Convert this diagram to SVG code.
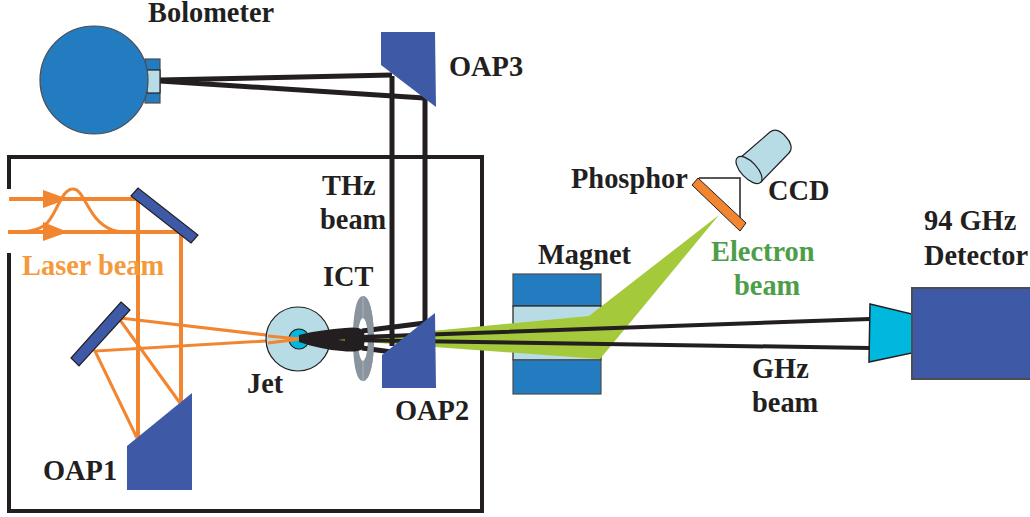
<svg xmlns="http://www.w3.org/2000/svg" width="1030" height="517" viewBox="0 0 1030 517">
<style>
text{font-family:"Liberation Serif","Times New Roman",serif;font-weight:bold;font-size:28.4px;fill:#231f20}
.o{stroke:#f28530;fill:none}
.k{stroke:#231f20;fill:none}
.dark{fill:#3e5aa6}
.mir{fill:#3e5aa6;stroke:#231f20;stroke-width:1.2}
.blue{fill:#237bc0;stroke:#4d4d4f;stroke-width:1.2}
.pale{fill:#b8dce6;stroke:#231f20;stroke-width:1.2}
.ring{fill:#8a949e}
</style>
<rect width="1030" height="517" fill="#fff"/>
<g id="enclosure"><path class="k" stroke-width="4" d="M9 189V157H482V511H9V253"/></g>
<g id="connectors">
<path class="o" stroke-width="4" d="M9 199H138V437M8 232H181V402"/>
<path class="o" stroke-width="3" d="M8 232C26 233 40 231 48 222C58 210 62 189 73 189C85 189 87 220 112 230C120 233 128 233 136 232"/>
<path fill="#f28530" d="M43 190L68 199L43 208ZM43 222L68 232L43 241Z"/>
<path class="o" stroke-width="3" d="M120 318L300 339L95 351L137 438M120 320L180 403"/>
</g>
<g id="magnet">
<rect class="blue" x="513" y="274" width="88" height="32"/>
<rect class="pale" x="513" y="306" width="88" height="54"/>
<rect class="blue" x="513" y="360" width="88" height="34"/>
</g>
<g id="jet">
<circle class="pale" cx="298" cy="339" r="32"/>
<circle cx="299" cy="339" r="10" fill="#00b8de" stroke="#231f20" stroke-width="1.2"/>
<path class="o" stroke-width="3" d="M268 336L300 339L268 343"/>
</g>
<g id="ict-back">
<path class="ring" fill-rule="evenodd" d="M363 296C370 296 374 316 374 339C374 362 370 381 363 381C356 381 353 362 353 339C353 316 356 296 363 296ZM363 318C360 318 358 328 358 339C358 350 360 361 363 361C366 361 368 350 368 339C368 328 366 318 363 318Z"/>
</g>
<g id="thz-beam">
<path fill="#231f20" d="M299 335C315 331 330 329 345 328C352 327 359 327 363 330C365 332 365 346 363 349C358 352 350 352 342 351C328 350 314 347 299 342Z"/>
<path class="k" stroke-width="5" d="M362 331L425 323M362 348L392 352"/>
</g>
<g id="electron-beam"><path fill="#a4c93b" d="M338 340L589 316L719 215L600 359Z"/></g>
<g id="ict-front">
<path class="ring" d="M363 296C370 296 374 316 374 339C374 362 370 381 363 381V361C366 361 368 350 368 339C368 328 366 318 363 318Z"/>
<path stroke="#aab2ba" stroke-width="1" fill="none" d="M363 296V318M363 361V381"/>
</g>
<g id="thz-ghz-beams">
<path class="k" stroke-width="4" d="M345 337.500L870 319M345 340L870 348"/>
<path class="k" stroke-width="5" d="M392 76V346M425 98V325"/>
<path class="k" stroke-width="5" d="M160 80L392 75M160 81L424 98"/>
</g>
<g id="bolometer">
<rect class="blue" x="145" y="59" width="15" height="44"/>
<rect class="pale" x="147" y="70" width="13" height="23"/>
<circle class="blue" cx="94" cy="80" r="54"/>
<text x="148" y="22">Bolometer</text>
</g>
<g id="oap3"><path class="dark" d="M381 32H435L436 107L381 65Z"/><text x="449" y="76">OAP3</text></g>
<g id="oap2"><path class="dark" d="M382 355L435 313L436 388H382Z"/><text x="395" y="420">OAP2</text></g>
<g id="oap1"><path class="dark" d="M127 446L192 393V490H127Z"/><text x="43" y="480">OAP1</text></g>
<g id="mirror-1"><path class="mir" d="M131 196L138 188L198 235L191 243Z"/></g>
<g id="mirror-2"><path class="mir" d="M121 302L130 310L79 366L71 358Z"/></g>
<g id="phosphor">
<path fill="none" stroke="#231f20" stroke-width="1.5" d="M699 178H740V220"/>
<path fill="#f28530" stroke="#231f20" stroke-width="1" d="M698 178L692 185L740 231L746 223Z"/>
<text x="571" y="188">Phosphor</text>
</g>
<g id="ccd">
<path class="pale" stroke-width="1.5" d="M740 158L770 132C775 128 781 131 786 137C791 142 793 149 789 153L761 182Z"/>
<ellipse class="pale" stroke-width="1.5" cx="749" cy="170" rx="17" ry="8" transform="rotate(47 749 170)"/>
<text x="768" y="200">CCD</text>
</g>
<g id="detector">
<path fill="#00b8de" stroke="#231f20" stroke-width="1.5" d="M870 304L912 314V353L869 362Z"/>
<rect x="912" y="288" width="120" height="91" fill="#3e5aa6" stroke="#4d4d4f" stroke-width="2"/>
<text x="924" y="230">94 GHz</text>
<text x="924" y="265">Detector</text>
</g>
<g id="labels">
<text x="322" y="195">THz</text>
<text x="320" y="229">beam</text>
<text x="323" y="286">ICT</text>
<text x="22" y="275" style="fill:#f59a3c">Laser beam</text>
<text x="247" y="393">Jet</text>
<text x="538" y="264">Magnet</text>
<text x="711" y="261" style="fill:#4c9e47">Electron</text>
<text x="734" y="295" style="fill:#4c9e47">beam</text>
<text x="752" y="378">GHz</text>
<text x="752" y="412">beam</text>
</g>
</svg>
